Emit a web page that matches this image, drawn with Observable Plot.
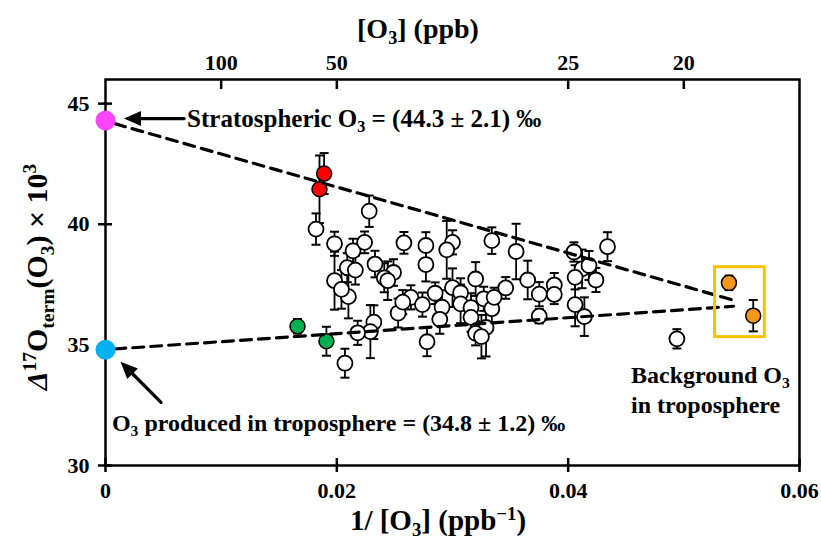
<!DOCTYPE html>
<html><head><meta charset="utf-8">
<script src="https://cdn.jsdelivr.net/npm/d3@7"></script>
<script src="https://cdn.jsdelivr.net/npm/@observablehq/plot@0.6"></script>
<style>html,body{margin:0;padding:0;background:#fff} svg{display:block}</style>
</head><body><div id="chart"></div>
<script>
// ---- data ----
const invO3 = [0.0182,0.0198,0.0198,0.0209,0.0216,0.0214,0.0224,0.0228,0.0210,0.0204,
  0.0233,0.0249,0.0241,0.0244,0.0253,0.0232,0.0229,0.0218,0.0207,0.0258,
  0.0277,0.0277,0.0300,0.0295,0.0334,0.0320,0.0264,0.0257,0.0274,0.0285,
  0.0300,0.0307,0.0291,0.0289,0.0307,0.0316,0.0327,0.0334,0.0316,0.0329,
  0.0320,0.0325,0.0278,0.0355,0.0434,0.0405,0.0412,0.0418,0.0406,0.0424,
  0.0365,0.0346,0.0375,0.0388,0.0388,0.0336,0.0406,0.0375,0.0414,0.0494];
const d17O = [39.80,39.19,37.66,38.20,38.10,38.90,39.25,40.54,37.00,37.30,
  38.35,38.00,37.78,37.66,36.32,35.94,35.55,35.50,34.24,39.23,
  39.12,38.33,39.25,38.94,39.32,37.73,36.97,36.77,36.67,37.14,
  37.37,37.16,36.56,36.06,36.70,36.54,36.91,36.50,36.14,35.72,
  35.48,35.34,35.13,38.87,39.07,38.85,38.15,38.29,37.80,37.69,
  37.69,37.36,37.10,37.48,37.09,36.97,36.67,36.19,36.17,35.25];
const d17OErr = [0.65,0.5,1.2,0.6,0.6,0.5,0.45,0.65,0.9,0.8,
  0.55,0.55,0.6,0.8,0.6,0.7,1.1,0.5,0.6,0.45,
  0.55,0.7,0.5,1.2,0.55,0.7,0.5,0.5,0.5,0.45,
  0.8,0.6,0.7,0.6,0.8,0.6,0.5,0.6,0.6,1.2,
  0.5,0.9,0.6,1.15,0.6,0.4,0.8,0.6,0.5,0.5,
  0.8,0.45,0.5,0.5,0.4,0.4,0.9,0.3,0.8,0.4];

const stratEventX = [0.0189, 0.0185], stratEventY = [42.10, 41.45], stratEventErr = [0.85, 1.4];
const tropoEventX = [0.0166, 0.0191], tropoEventY = [35.77, 35.15], tropoEventErr = [0.3, 0.6];
const backgroundX = [0.0539, 0.0560], backgroundY = [37.57, 36.21], backgroundErr = [0.3, 0.65];
const endMemberNames = ["Stratospheric", "Tropospheric"];
const endMemberX = [0, 0], endMemberY = [44.3, 34.8];

const upperMixX = [0.0008, 0.0543], upperMixY = [44.17, 36.85];
const lowerMixX = [0.0008, 0.0543], lowerMixY = [34.83, 36.60];
const bgBoxX = [0.0527, 0.0570], bgBoxY = [35.32, 38.22];

const arrowStartX = [0.0068, 0.0048], arrowStartY = [44.38, 32.62];
const arrowEndX = [0.0016, 0.0013], arrowEndY = [44.38, 34.30];
const arrowAngle = [-90, -45];

const xDomain = [0, 0.06], yDomain = [30, 46];
const xTicks = [0, 0.02, 0.04, 0.06];
const xTickLabels = ["0", "0.02", "0.04", "0.06"];
const yTicks = [30, 35, 40, 45];
const topTickLabels = [100, 50, 25, 20];

// ---- build tables ----
const mk = (xs, ys, es) => xs.map((x, i) => ({x, y: ys[i], e: es[i]}));
const white = mk(invO3, d17O, d17OErr);
const red = mk(stratEventX, stratEventY, stratEventErr);
const green = mk(tropoEventX, tropoEventY, tropoEventErr);
const orange = mk(backgroundX, backgroundY, backgroundErr);
const allErr = [...white, ...red, ...green, ...orange];
const caps = allErr.flatMap(d => [{x: d.x, y: d.y - d.e}, {x: d.x, y: d.y + d.e}]);
const ends = endMemberX.map((x, i) => ({x, y: endMemberY[i], name: endMemberNames[i]}));
const mixUpper = upperMixX.map((x, i) => ({x, y: upperMixY[i]}));
const mixLower = lowerMixX.map((x, i) => ({x, y: lowerMixY[i]}));
const arrows = arrowStartX.map((x, i) => ({x1: x, y1: arrowStartY[i], x2: arrowEndX[i], y2: arrowEndY[i], a: arrowAngle[i]}));
const topTicks = topTickLabels.map(v => 1 / v);

// plot geometry
const W = 821, H = 543, ML = 105, MR = 22, MT = 79, MB = 78;
const pxX = (xDomain[1] - xDomain[0]) / (W - ML - MR);   // x units per pixel
const pxY = (yDomain[1] - yDomain[0]) / (H - MT - MB);   // y units per pixel

const capSymbol = {draw(ctx) { ctx.moveTo(-4.5, 0); ctx.lineTo(4.5, 0); }};
const headSymbol = {draw(ctx) { ctx.moveTo(0, 0); ctx.lineTo(-7.5, 17); ctx.lineTo(7.5, 17); ctx.closePath(); }};

const FONT = "Liberation Serif";
const chart = Plot.plot({
  width: W, height: H,
  marginLeft: ML, marginRight: MR, marginTop: MT, marginBottom: MB,
  x: {domain: xDomain},
  y: {domain: yDomain},
  style: {fontFamily: FONT, fontWeight: "bold", background: "#fff"},
  marks: [
    Plot.axisX(xTicks, {anchor: "bottom", tickSize: 0, tickPadding: 17, tickFormat: d => xTickLabels[xTicks.indexOf(d)], fontSize: 22, fontWeight: "bold", label: null}),
    Plot.axisX(topTicks, {anchor: "top", tickSize: 0, tickPadding: 10, tickFormat: d => String(topTickLabels[topTicks.indexOf(d)]), fontSize: 22, fontWeight: "bold", label: null}),
    Plot.axisY(yTicks, {anchor: "left", tickSize: 0, tickPadding: 16, fontSize: 22, fontWeight: "bold", label: null}),
    Plot.frame({stroke: "black", strokeWidth: 2.5}),
    // tick marks (crossing on left/bottom, inward on top)
    Plot.ruleY(yTicks, {y: d => d, x1: () => xDomain[0] - 7 * pxX, x2: () => xDomain[0] + 7 * pxX, stroke: "black", strokeWidth: 2.5}),
    Plot.ruleX(xTicks, {x: d => d, y1: () => yDomain[0] - 7 * pxY, y2: () => yDomain[0] + 7 * pxY, stroke: "black", strokeWidth: 2.5}),
    Plot.ruleX(topTicks, {x: d => d, y1: () => yDomain[1], y2: () => yDomain[1] - 10 * pxY, stroke: "black", strokeWidth: 2.5}),
    // error bars
    Plot.ruleX(allErr, {x: "x", y1: d => d.y - d.e, y2: d => d.y + d.e, stroke: "black", strokeWidth: 1.8}),
    Plot.dot(caps, {x: "x", y: "y", symbol: capSymbol, stroke: "black", strokeWidth: 2, fill: "none"}),
    // points
    Plot.dot(white, {x: "x", y: "y", r: 7.5, fill: "white", stroke: "black", strokeWidth: 1.8}),
    Plot.dot(red, {x: "x", y: "y", r: 7.5, fill: "#FF0000", stroke: "black", strokeWidth: 1.5}),
    Plot.dot(green, {x: "x", y: "y", r: 7.5, fill: "#00B050", stroke: "black", strokeWidth: 1.5}),
    Plot.dot(orange, {x: "x", y: "y", r: 7.5, fill: "#F5961E", stroke: "black", strokeWidth: 1.5}),
    // mixing lines
    Plot.line(mixUpper, {x: "x", y: "y", stroke: "black", strokeWidth: 3.2, strokeDasharray: "11,7"}),
    Plot.line(mixLower, {x: "x", y: "y", stroke: "black", strokeWidth: 3.2, strokeDasharray: "11,7"}),
    // background box
    Plot.rect([{x1: bgBoxX[0], x2: bgBoxX[1], y1: bgBoxY[0], y2: bgBoxY[1]}], {x1: "x1", x2: "x2", y1: "y1", y2: "y2", fill: "none", stroke: "#FFC000", strokeWidth: 3}),
    // end members
    Plot.dot(ends, {x: "x", y: "y", r: 10, fill: d => d.name === "Stratospheric" ? "#FF44FF" : "#00B0F0", stroke: "none"}),
    // arrows
    Plot.arrow(arrows, {x1: "x1", y1: "y1", x2: "x2", y2: "y2", headLength: 0, insetEnd: 12, stroke: "black", strokeWidth: 3.2}),
    Plot.dot(arrows, {x: "x2", y: "y2", symbol: headSymbol, rotate: "a", fill: "black", stroke: "none"})
  ]
});
document.getElementById("chart").appendChild(chart);

// ---- rich text (sub/superscripts) ----
const svg = d3.select(chart);
const sx = chart.scale("x"), sy = chart.scale("y");
const g = svg.append("g");
function rich(parts, {x, y, size, anchor = "start", rotate = 0}) {
  const t = g.append("text")
    .attr("transform", `translate(${x},${y}) rotate(${rotate})`)
    .attr("text-anchor", anchor).attr("font-family", FONT).attr("font-weight", "bold")
    .attr("font-size", size).attr("fill", "black");
  let cur = 0;
  for (const p of parts) {
    const fs = (p.sub || p.sup) ? size * 0.65 : size;
    const target = p.sub ? size * 0.22 : p.sup ? -size * 0.36 : 0;
    const ts = t.append("tspan").attr("font-size", fs).attr("dy", target - cur).text(p.t);
    if (p.italic) ts.attr("font-style", "italic");
    cur = target;
  }
}
rich([{t: "[O"}, {t: "3", sub: 1}, {t: "] (ppb)"}], {x: 418, y: 38, size: 28, anchor: "middle"});
rich([{t: "1/ [O"}, {t: "3", sub: 1}, {t: "] (ppb"}, {t: "\u22121", sup: 1}, {t: ")"}], {x: 438, y: 530, size: 29, anchor: "middle"});
rich([{t: "\u0394", italic: 1}, {t: "17", sup: 1}, {t: "O"}, {t: "term", sub: 1}, {t: "(O"}, {t: "3", sub: 1}, {t: ") \u00d7 10"}, {t: "3", sup: 1}], {x: 47, y: 277, size: 30, anchor: "middle", rotate: -90});
rich([{t: "Stratospheric O"}, {t: "3", sub: 1}, {t: " = (44.3 \u00b1 2.1) \u2030"}], {x: sx.apply(0.0071), y: sy.apply(44.02), size: 25});
rich([{t: "O"}, {t: "3", sub: 1}, {t: " produced in troposphere = (34.8 \u00b1 1.2) \u2030"}], {x: sx.apply(0.0006), y: sy.apply(31.43), size: 24});
rich([{t: "Background O"}, {t: "3", sub: 1}], {x: sx.apply(0.04548), y: sy.apply(33.40), size: 24});
rich([{t: "in troposphere"}], {x: sx.apply(0.04548), y: sy.apply(32.15), size: 24});
</script>
</body></html>
